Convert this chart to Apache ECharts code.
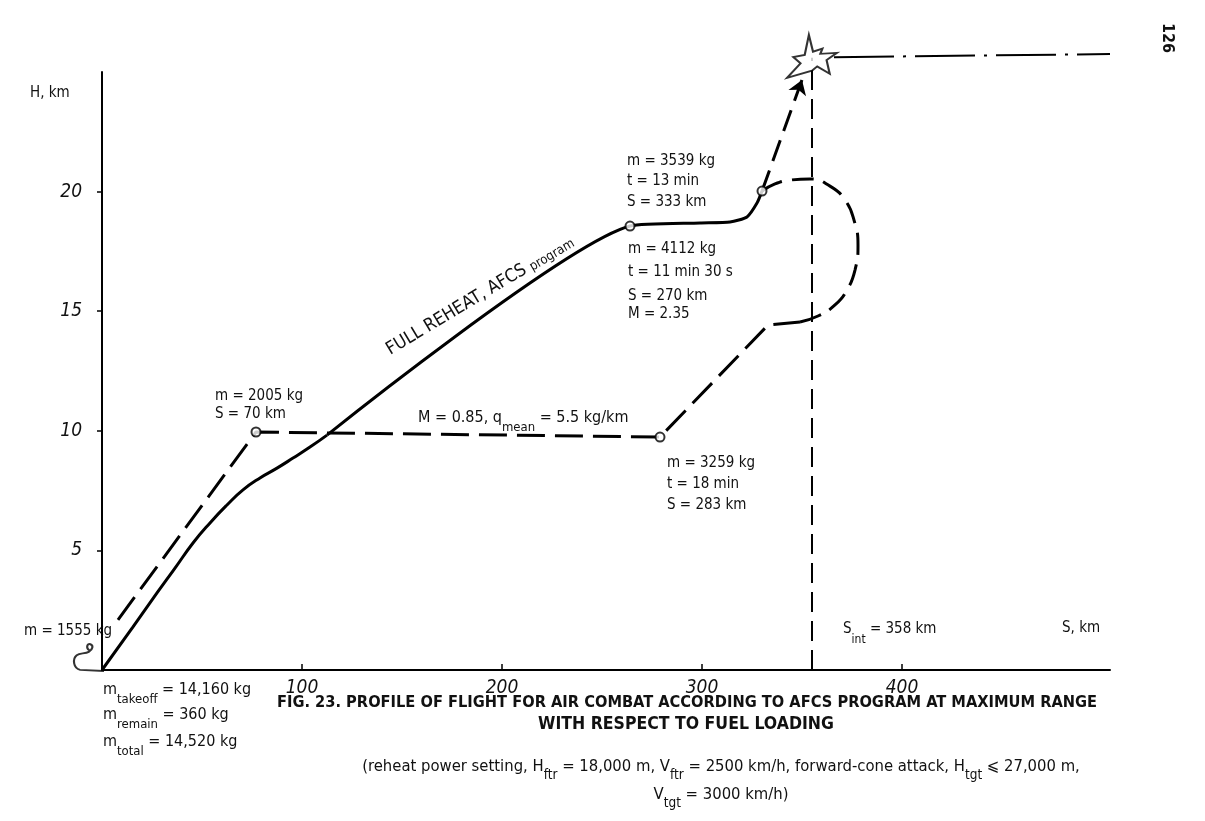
<!DOCTYPE html>
<html>
<head>
<meta charset="utf-8">
<title>Fig. 23 flight profile</title>
<script src="https://cdn.jsdelivr.net/npm/echarts@6/dist/echarts.min.js"></script>
<style>
  html, body { margin: 0; padding: 0; background: #fff; }
  #chart { width: 1205px; height: 821px; }
</style>
</head>
<body>
<div id="chart"></div>
<script>
// tick labels
var xTicks = [100, 200, 300, 400];
var yTicks = [5, 10, 15, 20];

// full reheat, AFCS program (solid): curved climb, then straight climb and level-off
var climbS = [0, 15.5, 27.5, 36.5, 45.5, 54, 62.5, 70.5, 79, 87.5, 95.5, 104, 112.5];
var climbH = [0, 1.8, 3.22, 4.26, 5.31, 6.15, 6.9, 7.53, 8.03, 8.44, 8.86, 9.32, 9.82];
var reheatS = [112.5, 264, 299, 314, 322.5, 327.5, 330];
var reheatH = [9.82, 18.56, 18.69, 18.73, 18.94, 19.52, 20.02];

// M = 0.85 cruise and climb (dashed)
var cruiseS = [8, 77, 279, 333, 349];
var cruiseH = [2.1, 9.95, 9.74, 14.42, 14.55];

// turning loop (dashed)
var loopS = [349, 358, 366.5, 372.5, 376.5, 378, 376, 371.5, 364, 354, 344, 336.5, 330];
var loopH = [14.55, 14.8, 15.26, 15.89, 16.72, 17.77, 18.81, 19.65, 20.23, 20.53, 20.48, 20.32, 20.02];

// attack climb to target
var attackS = [330, 350];
var attackH = [20.02, 24.67];

// target and its track
var targetS = [355];
var targetH = [25.65];
var trackS = [366, 504];
var trackH = [25.62, 25.75];
var interceptS = [355, 355];
var interceptH = [0, 25.6];

// takeoff curl symbol position
var curlS = [-6.5];
var curlH = [0.52];

// marked points
var markS = [77, 264, 330, 279];
var markH = [9.95, 18.56, 20.02, 9.74];

function zip(a, b) {
  var out = [];
  for (var i = 0; i < a.length; i++) out.push([a[i], b[i]]);
  return out;
}

var FONT = '"DejaVu Sans Condensed", sans-serif';
var CAP = '"DejaVu Sans Condensed", sans-serif';
var INK = '#111';

var chart = echarts.init(document.getElementById('chart'));

function txt(x, y, text, size, extra) {
  var st = {
    text: text, fill: INK, fontSize: size || 15, fontFamily: FONT,
    verticalAlign: 'middle', align: 'left'
  };
  for (var k in (extra || {})) st[k] = extra[k];
  return { type: 'text', x: x, y: y, silent: true, style: st };
}

// rich text with subscripts: {b|..} base, {s|..} subscript
function sub(x, y, text, size, extra) {
  var sz = size || 15;
  var st = {
    text: text, fill: INK, fontFamily: FONT, fontSize: sz,
    verticalAlign: 'top', align: 'left',
    rich: {
      b: { fontSize: sz, fontFamily: FONT, fill: INK, lineHeight: 24, verticalAlign: 'top' },
      s: { fontSize: sz - 3, fontFamily: FONT, fill: INK, lineHeight: 24, verticalAlign: 'bottom' }
    }
  };
  for (var k in (extra || {})) st[k] = extra[k];
  return { type: 'text', x: x, y: y, silent: true, style: st };
}

var option = {
  animation: false,
  backgroundColor: '#fff',
  grid: { left: 102, right: 95, top: 72, bottom: 151 },
  xAxis: {
    type: 'value', min: 0, max: 504, interval: 100,
    axisLine: { show: true, lineStyle: { color: '#000', width: 2 } },
    axisTick: { show: true, inside: true, length: 6, customValues: xTicks, lineStyle: { color: '#000', width: 1.5 } },
    axisLabel: { customValues: xTicks, fontStyle: 'italic', fontSize: 19, color: INK, margin: 9, fontFamily: FONT },
    splitLine: { show: false }
  },
  yAxis: {
    type: 'value', min: 0, max: 25, interval: 5,
    axisLine: { show: true, lineStyle: { color: '#000', width: 2 } },
    axisTick: { show: true, length: 5, customValues: yTicks, lineStyle: { color: '#000', width: 1.5 } },
    axisLabel: { customValues: yTicks, fontStyle: 'italic', fontSize: 19, color: INK, margin: 20, fontFamily: FONT },
    splitLine: { show: false }
  },
  series: [
    {
      name: 'climb', type: 'line', data: zip(climbS, climbH), symbol: 'none', smooth: 0.5,
      lineStyle: { color: '#000', width: 3 }
    },
    {
      name: 'reheat', type: 'line', data: zip(reheatS, reheatH), symbol: 'none', smooth: 0.2,
      lineStyle: { color: '#000', width: 3 }
    },
    {
      name: 'cruise', type: 'line', data: zip(cruiseS, cruiseH), symbol: 'none',
      lineStyle: { color: '#000', width: 3, type: [28, 10] }
    },
    {
      name: 'loop', type: 'line', data: zip(loopS, loopH), symbol: 'none', smooth: true,
      lineStyle: { color: '#000', width: 3, type: [22, 10] }
    },
    {
      name: 'intercept', type: 'line', data: zip(interceptS, interceptH), symbol: 'none', clip: false,
      lineStyle: { color: '#000', width: 2, type: [20, 9] }
    },
    {
      name: 'track', type: 'line', data: zip(trackS, trackH), symbol: 'none', clip: false,
      lineStyle: { color: '#000', width: 2, type: [60, 9, 3, 9] }
    },
    {
      name: 'curl', type: 'scatter', data: zip(curlS, curlH), clip: false, z: 4,
      symbol: 'path://M29,25 L8,24 C2,23 1,15 5,12 C8,10 12,11 16,9 C19,7 20,4 17,3 C14,2 13,6 16,8',
      symbolSize: [30, 27],
      itemStyle: { color: 'rgba(0,0,0,0)', borderColor: '#000', borderWidth: 2 }
    },
    {
      name: 'target', type: 'scatter', data: zip(targetS, targetH), clip: false, z: 5,
      symbol: 'path://M42,0 L50,32 L68,26 L64,36 L96,34 L76,48 L82,74 L58,60 L48,68 L0,82 L26,54 L12,42 L34,38 Z',
      symbolSize: [50, 43],
      itemStyle: { color: '#fff', borderColor: '#000', borderWidth: 2 },
      markLine: {
        silent: true, symbol: ['none', 'arrow'], symbolSize: 14,
        label: { show: false },
        lineStyle: { color: '#000', width: 3, type: [22, 10] },
        data: [[{ coord: [attackS[0], attackH[0]] }, { coord: [attackS[1], attackH[1]] }]]
      }
    },
    {
      name: 'points', type: 'scatter', data: zip(markS, markH), z: 6,
      symbol: 'circle', symbolSize: 9,
      itemStyle: { color: '#fff', borderColor: '#000', borderWidth: 2 }
    }
  ],
  graphic: [
    txt(30, 93, 'H, km', 15),
    txt(1062, 628, 'S, km', 15),
    txt(24, 631, 'm = 1555 kg'),
    sub(103, 682, '{b|m}{s|takeoff}{b| = 14,160 kg}', 16),
    sub(103, 707, '{b|m}{s|remain}{b| = 360 kg}', 16),
    sub(103, 734, '{b|m}{s|total}{b| = 14,520 kg}', 16),
    txt(215, 396, 'm = 2005 kg'),
    txt(215, 414, 'S = 70 km'),
    sub(418, 410, '{b|M = 0.85, q}{s|mean}{b| = 5.5 kg/km}', 16),
    txt(667, 463, 'm = 3259 kg'),
    txt(667, 484, 't = 18 min'),
    txt(667, 505, 'S = 283 km'),
    txt(627, 161, 'm = 3539 kg'),
    txt(627, 181, 't = 13 min'),
    txt(627, 202, 'S = 333 km'),
    txt(628, 249, 'm = 4112 kg'),
    txt(628, 272, 't = 11 min 30 s'),
    txt(628, 296, 'S = 270 km'),
    txt(628, 314, 'M = 2.35'),
    sub(843, 622, '{b|S}{s|int}{b| = 358 km}'),
    {
      type: 'text', x: 479, y: 294, rotation: 31 * Math.PI / 180, silent: true,
      style: {
        text: '{a|FULL REHEAT, AFCS }{p|program}', align: 'center', verticalAlign: 'middle',
        rich: {
          a: { fontSize: 18, fontFamily: FONT, fill: INK, verticalAlign: 'bottom', lineHeight: 22 },
          p: { fontSize: 13, fontFamily: FONT, fill: INK, verticalAlign: 'bottom', lineHeight: 22 }
        }
      }
    },
    txt(687, 703, 'FIG. 23. PROFILE OF FLIGHT FOR AIR COMBAT ACCORDING TO AFCS PROGRAM AT MAXIMUM RANGE', 16.3,
      { align: 'center', fontFamily: CAP, fontWeight: 'bold' }),
    txt(686, 724, 'WITH RESPECT TO FUEL LOADING', 17.5,
      { align: 'center', fontFamily: CAP, fontWeight: 'bold' }),
    sub(721, 758, '{b|(reheat power setting, H}{s|ftr}{b| = 18,000 m, V}{s|ftr}{b| = 2500 km/h, forward-cone attack, H}{s|tgt}{b| \u2A7D 27,000 m,}', 16.5,
      { align: 'center' }),
    sub(721, 786, '{b|V}{s|tgt}{b| = 3000 km/h)}', 16.5, { align: 'center' }),
    {
      type: 'text', x: 1167, y: 38, rotation: -Math.PI / 2, silent: true,
      style: { text: '126', fontSize: 16, fontWeight: 'bold', fontFamily: CAP, fill: INK, align: 'center', verticalAlign: 'middle' }
    }
  ]
};

chart.setOption(option);
window.onresize = function () { chart.resize(); };
</script>
</body>
</html>
